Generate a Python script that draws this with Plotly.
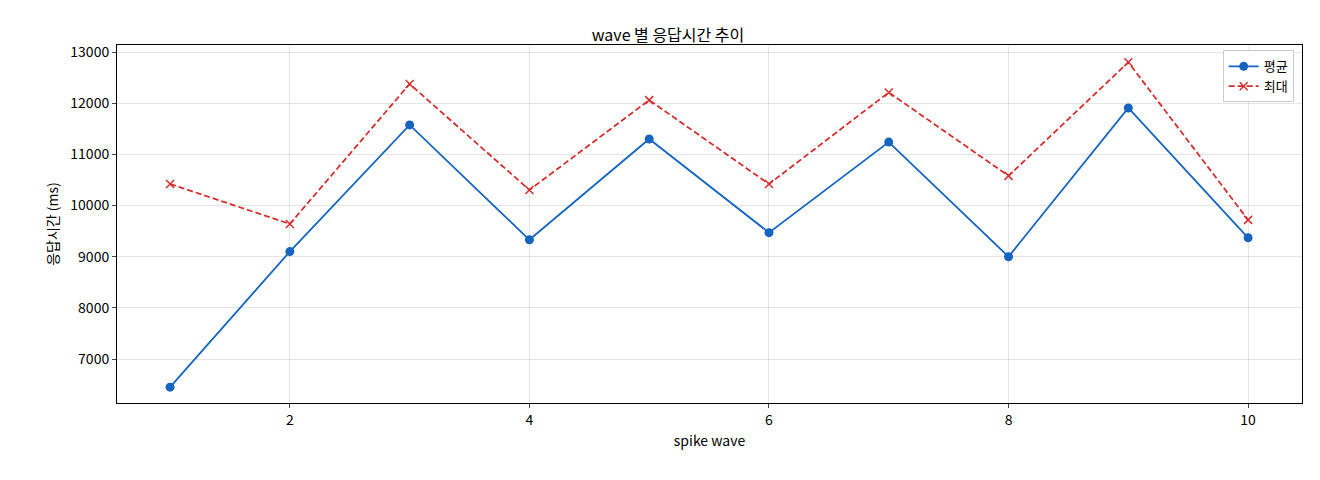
import plotly.graph_objects as go

waves = [1, 2, 3, 4, 5, 6, 7, 8, 9, 10]
avg_ms = [6450, 9100, 11575, 9330, 11300, 9470, 11240, 9000, 11906, 9370]
max_ms = [10422, 9640, 12375, 10305, 12060, 10420, 12210, 10580, 12800, 9720]

fig = go.Figure()
fig.add_trace(go.Scatter(x=waves, y=avg_ms, name="평균", mode="lines+markers",
                         line=dict(color="#1565c0", width=1.8), marker=dict(size=9, color="#1565c0")))
fig.add_trace(go.Scatter(x=waves, y=max_ms, name="최대", mode="lines+markers",
                         line=dict(color="#d32f2f", width=1.8, dash="6px,3px"),
                         marker=dict(symbol="x-thin", size=8, line=dict(width=1.5, color="#d32f2f"), color="#d32f2f")))

ax = dict(showline=True, linecolor="black", mirror=True, ticks="outside", ticklen=4,
          gridcolor="rgba(0,0,0,0.1)", zeroline=False, tickfont=dict(size=14))
fig.update_layout(
    width=1320, height=480, plot_bgcolor="white", paper_bgcolor="white",
    font=dict(family="Noto Sans CJK KR", color="black"),
    margin=dict(l=109, r=26, t=37, b=85),
    title=dict(text="wave 별 응답시간 추이", x=0.5, xanchor="center", y=0.955, font=dict(size=16)),
    xaxis=dict(ax, range=[0.557, 10.45], tickvals=[2, 4, 6, 8, 10],
               title=dict(text="spike wave", font=dict(size=14), standoff=8)),
    yaxis=dict(ax, range=[6141, 13137], tickvals=list(range(7000, 13001, 1000)), tickformat="d",
               title=dict(text="응답시간 (ms)", font=dict(size=14), standoff=8)),
    legend=dict(x=0.993, y=0.985, xanchor="right", yanchor="top", bordercolor="#ccc",
                borderwidth=1, bgcolor="white", font=dict(size=13)),
)
fig.write_html("out.html")
